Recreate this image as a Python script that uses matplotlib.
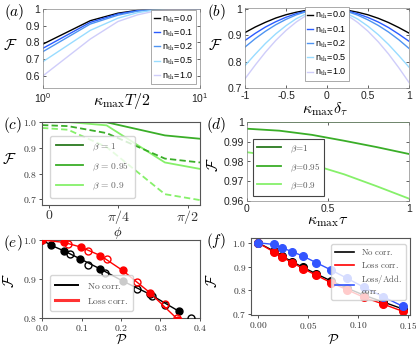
import matplotlib
matplotlib.use('Agg')
import matplotlib.pyplot as plt
from matplotlib.ticker import FuncFormatter, FixedLocator, NullLocator

plt.rcParams['mathtext.fontset'] = 'cm'
plt.rcParams['font.family'] = ['Liberation Sans', 'DejaVu Sans']

# ---------------- data ----------------
# (a)
a_x = [1, 2, 3, 4, 5, 6, 7, 8, 9, 10]
a_nth_labels = ['0.0', '0.1', '0.2', '0.5', '1.0']
a_nth00 = [0.79, 0.93, 0.975, 0.992, 0.998, 1.0, 1.0, 1.0, 1.0, 1.0]
a_nth01 = [0.765, 0.92, 0.970, 0.990, 0.997, 0.999, 1.0, 1.0, 1.0, 1.0]
a_nth02 = [0.745, 0.91, 0.963, 0.987, 0.996, 0.999, 1.0, 1.0, 1.0, 1.0]
a_nth05 = [0.685, 0.872, 0.945, 0.978, 0.992, 0.997, 0.999, 1.0, 1.0, 1.0]
a_nth10 = [0.60, 0.82, 0.925, 0.965, 0.985, 0.994, 0.998, 0.999, 1.0, 1.0]

# (b)
b_x = [-1, -0.875, -0.75, -0.625, -0.5, -0.375, -0.25, -0.125, 0,
       0.125, 0.25, 0.375, 0.5, 0.625, 0.75, 0.875, 1]
b_nth00 = [0.910, 0.931, 0.949, 0.965, 0.9775, 0.987, 0.9944, 0.9986, 1.0,
           0.9986, 0.9944, 0.987, 0.9772, 0.964, 0.948, 0.929, 0.908]
b_nth01 = [0.880, 0.907, 0.931, 0.951, 0.968, 0.9815, 0.9915, 0.9975, 1.0,
           0.9975, 0.9913, 0.981, 0.967, 0.950, 0.929, 0.904, 0.877]
b_nth02 = [0.855, 0.887, 0.915, 0.9395, 0.960, 0.977, 0.9895, 0.997, 1.0,
           0.997, 0.9892, 0.976, 0.958, 0.937, 0.912, 0.883, 0.850]
b_nth05 = [0.785, 0.828, 0.869, 0.905, 0.936, 0.9625, 0.9815, 0.9945, 1.0,
           0.9943, 0.981, 0.961, 0.934, 0.902, 0.865, 0.823, 0.779]
b_nth10 = [0.735, 0.787, 0.836, 0.880, 0.918, 0.950, 0.9755, 0.9925, 1.0,
           0.9922, 0.975, 0.948, 0.915, 0.875, 0.829, 0.777, 0.721]

# (c)
c_phi = [-0.076, 0.218, 0.652, 1.31, 1.706]
c_b100_solid = [1.0, 1.0, 1.0, 1.0, 1.0]
c_b095_solid = [1.0, 1.0, 0.999, 0.948, 0.935]
c_b090_solid = [1.0, 1.0, 0.987, 0.843, 0.818]
c_b100_dash = [1.0, 1.0, 1.0, 1.0, 1.0]
c_b095_dash = [0.988, 0.984, 0.957, 0.858, 0.843]
c_b090_dash = [0.977, 0.970, 0.903, 0.720, 0.697]
c_labels = [r'$\beta\,=\,1$', r'$\beta\,=\,0.95$', r'$\beta\,=\,0.9$']

# (d)
d_x = [0.0, 0.2, 0.4, 0.6, 0.8, 1.0]
d_b100 = [1.0, 1.0, 1.0, 1.0, 1.0, 1.0]
d_b095 = [0.9966, 0.9956, 0.9935, 0.9905, 0.9873, 0.9838]
d_b090 = [0.9847, 0.9825, 0.9785, 0.9735, 0.9675, 0.9612]
d_labels = [r'$\beta\!=\!1$', r'$\beta\!=\!0.95$', r'$\beta\!=\!0.9$']

# (e)
e_nc_fill_x = [0.0, 0.024, 0.056, 0.096, 0.147, 0.206, 0.273, 0.347]
e_nc_fill_y = [1.0, 0.986, 0.972, 0.952, 0.926, 0.894, 0.861, 0.817]
e_nc_open_x = [0.071, 0.116, 0.160, 0.240, 0.278, 0.311, 0.377]
e_nc_open_y = [0.963, 0.937, 0.916, 0.875, 0.856, 0.834, 0.800]
e_lc_fill_x = [0.0, 0.055, 0.098, 0.148, 0.204, 0.273, 0.345]
e_lc_fill_y = [1.0, 0.994, 0.982, 0.960, 0.922, 0.865, 0.795]
e_lc_open_x = [0.067, 0.117, 0.164, 0.240, 0.311, 0.343]
e_lc_open_y = [0.990, 0.972, 0.950, 0.892, 0.836, 0.800]
e_labels = [r'$\mathrm{No\ corr.}$', r'$\mathrm{Loss\ corr.}$']

# (f)
f_P = [0.0, 0.016, 0.024, 0.034, 0.045, 0.058, 0.073, 0.089, 0.106, 0.125, 0.145]
f_nocorr = [1.0, 0.965, 0.944, 0.921, 0.897, 0.870, 0.840, 0.810, 0.780, 0.752, 0.722]
f_losscorr = [1.0, 0.961, 0.940, 0.917, 0.892, 0.864, 0.833, 0.803, 0.771, 0.743, 0.712]
f_lossadd = [1.0, 0.993, 0.979, 0.963, 0.944, 0.917, 0.886, 0.851, 0.813, 0.774, 0.733]
f_labels = [r'$\mathrm{No\ corr.}$', r'$\mathrm{Loss\ corr.}$',
            r'$\mathrm{Loss/Add.}$' + '\n' + r'$\mathrm{corr.}$']

# ---------------- figure ----------------
W, H = 416, 348
fig = plt.figure(figsize=(W / 100, H / 100), dpi=100)


def ax_px(l, t, r, b):
    return fig.add_axes([l / W, 1 - b / H, (r - l) / W, (b - t) / H])


def ftext(x, y, s, **kw):
    fig.text(x / W, 1 - y / H, s, ha='center', va='center', **kw)


def matlab_style(ax):
    ax.tick_params(which='both', direction='in', top=True, right=True,
                   labelsize=7.5, length=2.5, width=0.5, colors='#222222',
                   pad=2)
    for s in ax.spines.values():
        s.set_linewidth(0.5)
        s.set_color('#888888')


def sns_style(ax, lab=7):
    ax.tick_params(which='both', direction='out', length=2, width=0.6,
                   labelsize=lab, colors='#333333', pad=1.5)
    for s in ax.spines.values():
        s.set_linewidth(0.8)
        s.set_color('#555555')


def cm_fmt(fmt):
    return FuncFormatter(lambda v, p: '$' + (fmt % v) + '$')


blues = ['black', '#2b5cff', '#4f94f2', '#99dcff', '#cfcdfa']
greens = ['#2a7a1f', '#3aae28', '#86f06a']

# (a)
ax = ax_px(43, 9, 200, 88)
for ys, c, lb in zip([a_nth00, a_nth01, a_nth02, a_nth05, a_nth10], blues, a_nth_labels):
    ax.plot(a_x, ys, color=c, lw=1.0, label=r'n$_{\rm th}$=' + lb)
ax.set_xscale('log')
ax.set_xlim(1, 10)
ax.set_ylim(0.527, 1.0)
ax.yaxis.set_major_locator(FixedLocator([0.6, 0.7, 0.8, 0.9, 1.0]))
ax.yaxis.set_major_formatter(FuncFormatter(lambda v, p: '1' if abs(v - 1) < 1e-9 else '%.1f' % v))
matlab_style(ax)
ax.xaxis.set_minor_locator(NullLocator())
leg = ax.legend(loc='lower right', fontsize=6.5, handlelength=0.6, handletextpad=0.3,
                labelspacing=0.3, borderpad=0.3, fancybox=False, edgecolor='#888888',
                framealpha=1, borderaxespad=0.4)
leg.get_frame().set_linewidth(0.5)

# (b)
ax = ax_px(245, 8, 409, 88)
for ys, c, lb in zip([b_nth00, b_nth01, b_nth02, b_nth05, b_nth10], blues, a_nth_labels):
    ax.plot(b_x, ys, color=c, lw=1.0, label=r'n$_{\rm th}$=' + lb)
ax.set_xlim(-1, 1)
ax.set_ylim(0.7, 1.003)
ax.xaxis.set_major_locator(FixedLocator([-1, -0.5, 0, 0.5, 1]))
ax.xaxis.set_major_formatter(FuncFormatter(lambda v, p: '%g' % v))
ax.yaxis.set_major_locator(FixedLocator([0.7, 0.8, 0.9, 1.0]))
ax.yaxis.set_major_formatter(FuncFormatter(lambda v, p: '1' if abs(v - 1) < 1e-9 else '%.1f' % v))
matlab_style(ax)
leg = ax.legend(loc='lower center', bbox_to_anchor=(0.5, 0.03), fontsize=6.5,
                handlelength=0.6, handletextpad=0.3, labelspacing=0.3, borderpad=0.3,
                fancybox=False, edgecolor='#888888', framealpha=1)
leg.get_frame().set_linewidth(0.5)

# (c)
ax = ax_px(42, 122, 200, 205)
for ys, c, lb in zip([c_b100_solid, c_b095_solid, c_b090_solid], greens, c_labels):
    ax.plot(c_phi, ys, color=c, lw=1.3, label=lb)
for ys, c in zip([c_b100_dash, c_b095_dash, c_b090_dash], greens):
    ax.plot(c_phi, ys, color=c, lw=1.3, ls=(0, (3.5, 1.8)))
ax.set_xlim(-0.076, 1.706)
ax.set_ylim(0.678, 1.0)
ax.xaxis.set_major_locator(FixedLocator([0, 3.14159265 / 4, 3.14159265 / 2]))
ax.xaxis.set_major_formatter(FuncFormatter(
    lambda v, p: ['$0$', r'$\pi/4$', r'$\pi/2$'][p] if p is not None and p < 3 else ''))
ax.yaxis.set_major_locator(FixedLocator([0.7, 0.8, 0.9, 1.0]))
ax.yaxis.set_major_formatter(cm_fmt('%.1f'))
sns_style(ax)
ax.tick_params(axis='x', labelsize=10, pad=0.5)
leg = ax.legend(loc='lower left', bbox_to_anchor=(0.02, 0.03), fontsize=6.8,
                handlelength=2.9, handletextpad=1.0, labelspacing=0.85,
                borderpad=0.6, fancybox=True, edgecolor='#cccccc', framealpha=0.8)
for t in leg.get_texts():
    t.set_color('#666666')

# (d)
ax = ax_px(247, 122, 409, 201)
for ys, c, lb in zip([d_b100, d_b095, d_b090], greens, d_labels):
    ax.plot(d_x, ys, color=c, lw=1.3, label=lb)
ax.set_xlim(0, 1)
ax.set_ylim(0.96, 1.0)
ax.xaxis.set_major_locator(FixedLocator([0, 0.5, 1]))
ax.xaxis.set_major_formatter(FuncFormatter(lambda v, p: '%g' % v))
ax.yaxis.set_major_locator(FixedLocator([0.96, 0.97, 0.98, 0.99, 1.0]))
ax.yaxis.set_major_formatter(FuncFormatter(lambda v, p: '1' if abs(v - 1) < 1e-9 else '%.2f' % v))
matlab_style(ax)
leg = ax.legend(loc='lower left', bbox_to_anchor=(0.01, 0.01), fontsize=6.5,
                handlelength=2.6, handletextpad=1.0, labelspacing=0.75, borderpad=0.45,
                fancybox=False, edgecolor='#444444', framealpha=1)
leg.get_frame().set_linewidth(0.8)
for t in leg.get_texts():
    t.set_color('#555555')

# (e)
ax = ax_px(42, 240, 200, 318)
ax.plot(e_nc_fill_x, e_nc_fill_y, color='black', lw=1.0, marker='o', ms=5, mfc='black',
        mec='black', zorder=3)
ax.plot(e_nc_open_x, e_nc_open_y, color='black', lw=1.0, marker='o', ms=5, mfc='none',
        mec='black', zorder=3, ls='none')
ax.plot(e_lc_fill_x, e_lc_fill_y, color='red', lw=1.0, marker='o', ms=5, mfc='red',
        mec='red', zorder=4)
ax.plot(e_lc_open_x, e_lc_open_y, color='red', lw=1.0, marker='o', ms=5, mfc='none',
        mec='red', zorder=4, ls='none')
ax.set_xlim(0, 0.4)
ax.set_ylim(0.8, 1.0)
ax.xaxis.set_major_locator(FixedLocator([0, 0.1, 0.2, 0.3, 0.4]))
ax.xaxis.set_major_formatter(cm_fmt('%.1f'))
ax.yaxis.set_major_locator(FixedLocator([0.8, 0.9, 1.0]))
ax.yaxis.set_major_formatter(cm_fmt('%.1f'))
sns_style(ax)
h = [plt.Line2D([], [], color='black', lw=1.4), plt.Line2D([], [], color='#ff3333', lw=2.2)]
leg = ax.legend(h, e_labels, loc='lower left', bbox_to_anchor=(0.02, 0.03),
                fontsize=6.8, handlelength=2.4, handletextpad=1.0, labelspacing=0.55,
                borderpad=0.55, fancybox=True, edgecolor='#cccccc', framealpha=0.8)
for t in leg.get_texts():
    t.set_color('#555555')

# (f)
ax = ax_px(251, 238, 410, 315)
ax.plot(f_P, f_nocorr, color='black', lw=1.0, marker='o', ms=5.5)
ax.plot(f_P, f_losscorr, color='red', lw=1.0, marker='o', ms=5.5)
ax.plot(f_P, f_lossadd, color='#3355ff', lw=1.0, marker='o', ms=5.5)
ax.set_xlim(-0.007, 0.152)
ax.set_ylim(0.697, 1.02)
ax.xaxis.set_major_locator(FixedLocator([0, 0.05, 0.10, 0.15]))
ax.xaxis.set_major_formatter(cm_fmt('%.2f'))
ax.yaxis.set_major_locator(FixedLocator([0.7, 0.8, 0.9, 1.0]))
ax.yaxis.set_major_formatter(cm_fmt('%.1f'))
sns_style(ax, lab=6.8)
h = [plt.Line2D([], [], color=c, lw=1.2) for c in ['black', 'red', '#3355ff']]
leg = ax.legend(h, f_labels, loc='upper right', bbox_to_anchor=(1.0, 0.98),
                fontsize=6.3, handlelength=2.2, handletextpad=0.8, labelspacing=0.3,
                borderpad=0.4, fancybox=True, edgecolor='#cccccc', framealpha=0.8)
for t in leg.get_texts():
    t.set_color('#555555')

# panel labels
for (x, y), s in zip([(14, 12), (216, 12), (13, 125), (216, 125), (13, 243), (216, 241)],
                     ['(a)', '(b)', '(c)', '(d)', '(e)', '(f)']):
    ftext(x, y, r'$' + s + '$', fontsize=11)

# y labels
ftext(10, 45, r'$\mathcal{F}$', fontsize=11)
ftext(215, 45, r'$\mathcal{F}$', fontsize=11)
ftext(9, 160, r'$\mathcal{F}$', fontsize=11)
ftext(214, 165, r'$\mathcal{F}$', fontsize=11, rotation=90)
ftext(10, 281, r'$\mathcal{F}$', fontsize=11, rotation=90)
ftext(213, 281, r'$\mathcal{F}$', fontsize=11, rotation=90)

# x labels
ftext(122, 101, r'$\kappa_{\max}T/2$', fontsize=11.5)
ftext(325, 109, r'$\kappa_{\max}\delta_{\tau}$', fontsize=11.5)
ftext(118, 233, r'$\phi$', fontsize=9)
ftext(328, 221, r'$\kappa_{\max}\tau$', fontsize=11.5)
ftext(121, 340, r'$\mathcal{P}$', fontsize=10)
ftext(333, 340, r'$\mathcal{P}$', fontsize=10)

fig.savefig('out.png', dpi=100)
